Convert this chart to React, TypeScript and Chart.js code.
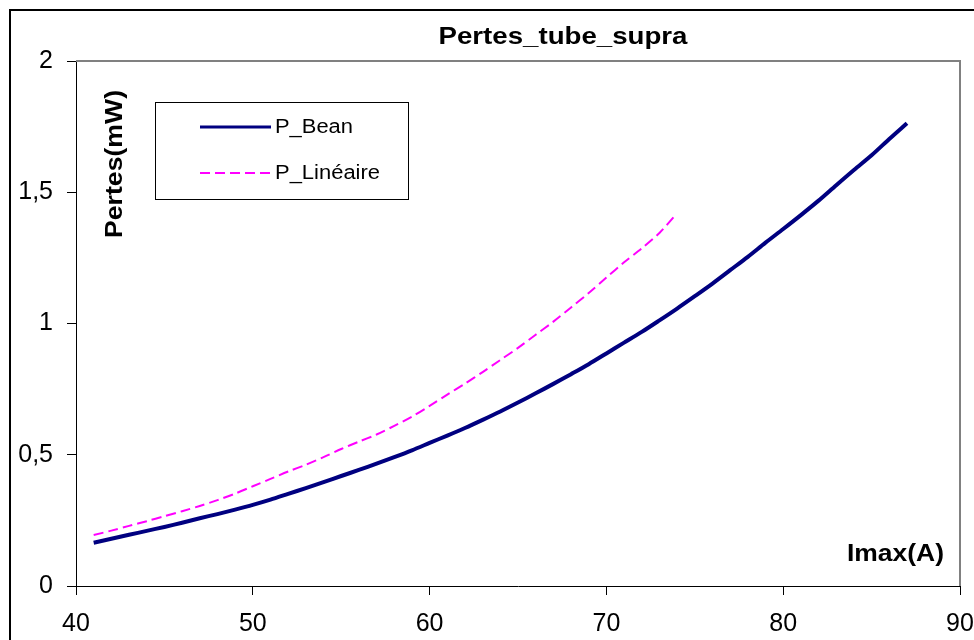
import React, { useEffect, useRef } from "react";
import { Chart, registerables } from "chart.js";

Chart.register(...registerables);

const chartTitle = "Pertes_tube_supra";
const xAxisTitle = "Imax(A)";
const yAxisTitle = "Pertes(mW)";

const beanLabel = "P_Bean";
const beanI = [41, 42, 43, 44, 45, 46, 47, 48, 49, 50, 51, 52, 53, 54, 55, 56, 57, 58, 59, 60, 61, 62, 63, 64, 65, 66, 67, 68, 69, 70, 71, 72, 73, 74, 75, 76, 77, 78, 79, 80, 81, 82, 83, 84, 85, 86, 87];
const beanP = [0.165, 0.18, 0.195, 0.21, 0.225, 0.241, 0.258, 0.274, 0.291, 0.309, 0.329, 0.351, 0.373, 0.396, 0.419, 0.442, 0.466, 0.491, 0.517, 0.545, 0.573, 0.602, 0.633, 0.665, 0.699, 0.734, 0.77, 0.807, 0.845, 0.886, 0.927, 0.968, 1.012, 1.057, 1.104, 1.152, 1.203, 1.254, 1.308, 1.36, 1.413, 1.468, 1.527, 1.585, 1.641, 1.703, 1.763];

const linLabel = "P_Linéaire";
const linI = [41, 42, 43, 44, 45, 46, 47, 48, 49, 50, 51, 52, 53, 54, 55, 56, 57, 58, 59, 60, 61, 62, 63, 64, 65, 66, 67, 68, 69, 70, 71, 72, 73, 73.9];
const linP = [0.194, 0.211, 0.229, 0.247, 0.266, 0.285, 0.305, 0.327, 0.352, 0.38, 0.408, 0.436, 0.462, 0.491, 0.522, 0.55, 0.577, 0.61, 0.645, 0.686, 0.729, 0.771, 0.815, 0.861, 0.907, 0.957, 1.007, 1.061, 1.116, 1.175, 1.233, 1.286, 1.345, 1.413];

const xTicks = [40, 50, 60, 70, 80, 90];
const yTicks = [0, 0.5, 1, 1.5, 2];

const FONT = "'Liberation Sans', Arial, sans-serif";

function drawScaledText(ctx: CanvasRenderingContext2D, text: string, x: number, y: number, font: string, targetW: number, rot: number, align: CanvasTextAlign) {
  ctx.save();
  ctx.font = font;
  ctx.fillStyle = "#000";
  ctx.textBaseline = "alphabetic";
  ctx.textAlign = align;
  const w = ctx.measureText(text).width;
  ctx.translate(x, y);
  ctx.rotate(rot);
  ctx.scale(targetW / w, 1);
  ctx.fillText(text, 0, 0);
  ctx.restore();
}

const decorPlugin = {
  id: "decor",
  afterDraw(chart: any) {
    const ctx: CanvasRenderingContext2D = chart.ctx;
    const a = chart.chartArea;
    ctx.save();
    ctx.strokeStyle = "#000";
    ctx.lineWidth = 2;
    ctx.strokeRect(10, 10, 1200, 1200);
    ctx.strokeStyle = "#808080";
    ctx.lineWidth = 2;
    ctx.beginPath();
    ctx.moveTo(a.left, a.top);
    ctx.lineTo(a.right, a.top);
    ctx.lineTo(a.right, a.bottom);
    ctx.stroke();
    ctx.restore();

    drawScaledText(ctx, chartTitle, 563, 44, `bold 24px ${FONT}`, 249, 0, "center");
    drawScaledText(ctx, yAxisTitle, 122, 164, `bold 24px ${FONT}`, 148, -Math.PI / 2, "center");
    drawScaledText(ctx, xAxisTitle, 944, 561, `bold 24px ${FONT}`, 97, 0, "right");

    const ds = chart.data.datasets;
    ctx.save();
    ctx.fillStyle = "#fff";
    ctx.fillRect(155, 102, 253, 97);
    ctx.strokeStyle = "#000";
    ctx.lineWidth = 1;
    ctx.strokeRect(155.5, 102.5, 253, 97);
    const rows = [127, 173];
    ds.forEach((d: any, i: number) => {
      ctx.save();
      ctx.strokeStyle = d.borderColor;
      ctx.lineWidth = i === 0 ? 3 : 2;
      ctx.setLineDash(d.borderDash || []);
      ctx.beginPath();
      ctx.moveTo(200, rows[i]);
      ctx.lineTo(271, rows[i]);
      ctx.stroke();
      ctx.restore();
      const tw = i === 0 ? 78 : 105;
      drawScaledText(ctx, d.label, 275, rows[i] + 6, `20px ${FONT}`, tw, 0, "left");
    });
    ctx.restore();
  },
};

export default function App() {
  const ref = useRef<HTMLCanvasElement | null>(null);
  useEffect(() => {
    if (!ref.current) return;
    const chart = new Chart(ref.current, {
      type: "line",
      data: {
        datasets: [
          {
            label: beanLabel,
            data: beanI.map((x, i) => ({ x, y: beanP[i] })),
            borderColor: "#000080",
            borderWidth: 4,
            pointRadius: 0,
            tension: 0.3,
            fill: false,
          },
          {
            label: linLabel,
            data: linI.map((x, i) => ({ x, y: linP[i] })),
            borderColor: "#FF00FF",
            borderWidth: 2,
            borderDash: [10, 5],
            pointRadius: 0,
            tension: 0.3,
            fill: false,
          },
        ],
      },
      options: {
        animation: false,
        responsive: false,
        maintainAspectRatio: false,
        layout: { padding: { top: 61, right: 14, left: 0, bottom: 0 } },
        plugins: {
          legend: { display: false },
          title: { display: false },
          tooltip: { enabled: false },
        },
        scales: {
          x: {
            type: "linear",
            min: xTicks[0],
            max: xTicks[xTicks.length - 1],
            afterBuildTicks: (s: any) => {
              s.ticks = xTicks.map((v) => ({ value: v }));
            },
            afterFit: (s: any) => {
              s.height = 54;
              s.paddingLeft = 0;
              s.paddingRight = 0;
            },
            grid: { drawOnChartArea: false, drawTicks: true, tickLength: 9, color: "#000" },
            border: { color: "#000", width: 1 },
            ticks: {
              color: "#000",
              padding: 14,
              maxRotation: 0,
              font: { family: FONT, size: 25 },
              callback: (v: any) => String(v),
            },
          },
          y: {
            type: "linear",
            min: yTicks[0],
            max: yTicks[yTicks.length - 1],
            afterBuildTicks: (s: any) => {
              s.ticks = yTicks.map((v) => ({ value: v }));
            },
            afterFit: (s: any) => {
              s.width = 76;
              s.paddingTop = 0;
              s.paddingBottom = 0;
            },
            grid: { drawOnChartArea: false, drawTicks: true, tickLength: 9, color: "#000" },
            border: { color: "#000", width: 1 },
            ticks: {
              color: "#000",
              padding: 14,
              font: { family: FONT, size: 25 },
              callback: (v: any) => String(v).replace(".", ","),
            },
          },
        },
      },
      plugins: [decorPlugin],
    });
    return () => chart.destroy();
  }, []);
  return (
    <div style={{ position: "absolute", left: 0, top: 0, width: 974, height: 640, background: "#fff" }}>
      <canvas ref={ref} width={974} height={640} style={{ width: 974, height: 640, display: "block" }} />
    </div>
  );
}
